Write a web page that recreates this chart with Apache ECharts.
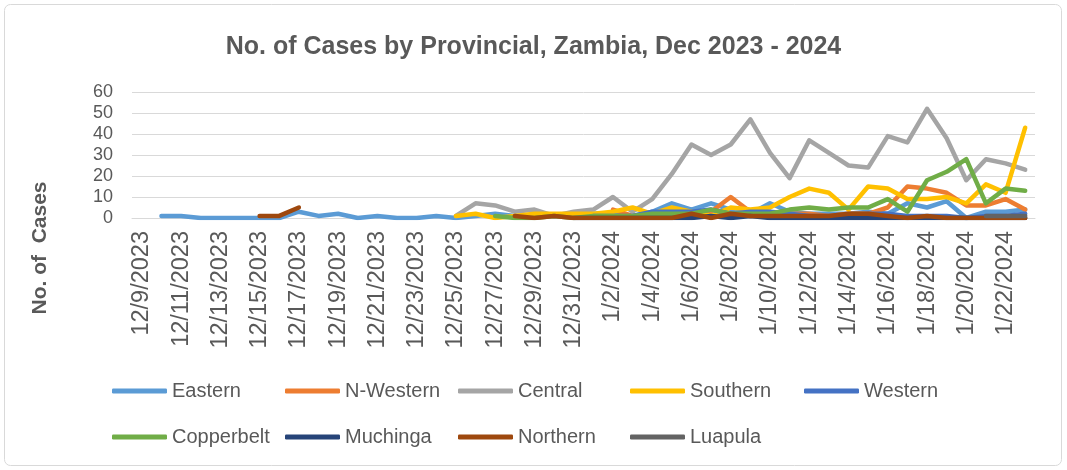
<!DOCTYPE html>
<html lang="en">
<head>
    <meta charset="UTF-8">
    <title>No. of Cases by Provincial</title>
    <script src="https://cdn.jsdelivr.net/npm/echarts@6/dist/echarts.min.js"></script>
    <style>
        html, body { margin: 0; padding: 0; background: #fff; }
    </style>
</head>
<body>
<div id="main" style="width: 1067px;height:470px;"></div>
<script type="text/javascript">
    // dates on the x axis (one per day)
    var dates = [
        '12/9/2023', '12/10/2023', '12/11/2023', '12/12/2023', '12/13/2023', '12/14/2023', '12/15/2023',
        '12/16/2023', '12/17/2023', '12/18/2023', '12/19/2023', '12/20/2023', '12/21/2023', '12/22/2023',
        '12/23/2023', '12/24/2023', '12/25/2023', '12/26/2023', '12/27/2023', '12/28/2023', '12/29/2023',
        '12/30/2023', '12/31/2023', '1/1/2024', '1/2/2024', '1/3/2024', '1/4/2024', '1/5/2024', '1/6/2024',
        '1/7/2024', '1/8/2024', '1/9/2024', '1/10/2024', '1/11/2024', '1/12/2024', '1/13/2024', '1/14/2024',
        '1/15/2024', '1/16/2024', '1/17/2024', '1/18/2024', '1/19/2024', '1/20/2024', '1/21/2024',
        '1/22/2024', '1/23/2024'
    ];

    var n = null;
    var eastern = [n, 1, 1, 0, 0, 0, 0, 0, 3, 1, 2, 0, 1, 0, 0, 1, 0, 1, 2, 1, 1, 1, 1, 2, 2, 1, 3, 7, 4, 7, 4, 2, 7, 3, 2, 2, 2, 3, 2, 7, 5, 8, 0, 3, 3, 4];
    var nWestern = [n, n, n, n, n, n, n, n, n, n, n, n, n, n, n, n, n, n, n, n, n, n, n, n, 4, 1, 1, 1, 1, 3, 10, 3, 2, 2, 2, 1, 2, 2, 5, 15, 14, 12, 6, 6, 9, 4];
    var central = [n, n, n, n, n, n, n, n, n, n, n, n, n, n, n, n, 1, 7, 6, 3, 4, 1, 3, 4, 10, 3, 9, 21, 35, 30, 35, 47, 31, 19, 37, 31, 25, 24, 39, 36, 52, 38, 18, 28, 26, 23];
    var southern = [n, n, n, n, n, n, n, n, n, n, n, n, n, n, n, n, 1, 2, 0, 1, 2, 2, 2, 2, 3, 5, 2, 5, 3, 1, 5, 4, 5, 10, 14, 12, 4, 15, 14, 9, 9, 10, 7, 16, 12, 43];
    var western = [n, n, n, n, n, n, n, n, n, n, n, n, n, n, n, n, n, n, n, n, n, n, n, 1, 1, 1, 3, 3, 3, 4, 2, 3, 3, 2, 1, 1, 1, 2, 2, 1, 1, 1, 0, 1, 1, 2];
    var copperbelt = [n, n, n, n, n, n, n, n, n, n, n, n, n, n, n, n, n, n, 1, 0, 0, 1, 0, 1, 1, 1, 2, 2, 2, 4, 2, 2, 2, 4, 5, 4, 5, 5, 9, 3, 18, 22, 28, 7, 14, 13];
    var muchinga = [n, n, n, n, n, n, n, n, n, n, n, n, n, n, n, n, n, n, n, n, n, n, 0, 0, 0, 0, 0, 0, 0, 1, 0, 1, 0, 0, 0, 0, 0, 0, 0, 0, 0, 0, 0, 0, 0, 0];
    var northern = [n, n, n, n, n, n, 1, 1, 5, n, n, n, n, n, n, n, n, n, n, 1, 0, 1, 0, 0, 0, 0, 0, 0, 2, 0, 2, 1, 1, 1, 1, 1, 2, 2, 1, 0, 1, 0, 0, 0, 0, 0];
    var luapula = [n, n, n, n, n, n, n, n, n, n, n, n, n, n, n, n, n, n, n, n, n, n, n, n, n, n, n, n, n, n, n, n, n, n, n, n, n, n, n, n, n, n, n, 1, 1, 1];

    var names = ['Eastern', 'N-Western', 'Central', 'Southern', 'Western', 'Copperbelt', 'Muchinga', 'Northern', 'Luapula'];
    var colors = ['#5B9BD5', '#ED7D31', '#A5A5A5', '#FFC000', '#4472C4', '#70AD47', '#264478', '#9E480E', '#636363'];
    var values = [eastern, nWestern, central, southern, western, copperbelt, muchinga, northern, luapula];

    var textColor = '#595959';
    var font = 'Liberation Sans';

    // legend laid out in a fixed grid like the original
    var legendLeft = [112, 285, 458, 630, 804];
    var legendTop = [381, 427];
    var legends = names.map(function (name, i) {
        return {
            data: [name],
            left: legendLeft[i % 5],
            top: legendTop[Math.floor(i / 5)],
            icon: 'roundRect',
            itemWidth: 55,
            itemHeight: 5,
            itemGap: 5,
            padding: 0,
            textStyle: { color: textColor, fontSize: 20, fontFamily: font, padding: [0, 0, 0, 0] }
        };
    });

    var myChart = echarts.init(document.getElementById('main'));

    var option = {
        animation: false,
        color: colors,
        title: {
            text: 'No. of Cases by Provincial, Zambia, Dec 2023 - 2024',
            left: 'center',
            top: 30,
            textStyle: { color: textColor, fontSize: 25, fontWeight: 'bold', fontFamily: font }
        },
        graphic: [{
            type: 'rect',
            shape: { x: 4.5, y: 4.5, width: 1057, height: 461, r: 6 },
            style: { fill: 'none', stroke: '#D9D9D9', lineWidth: 1 },
            silent: true
        }, {
            type: 'text',
            x: 40,
            y: 248,
            rotation: Math.PI / 2,
            style: {
                text: 'No. of  Cases',
                fill: textColor,
                font: 'bold 21px "Liberation Sans"',
                align: 'center',
                verticalAlign: 'middle'
            }
        }],
        legend: legends,
        grid: { left: 132, right: 32, top: 92, bottom: 252 },
        xAxis: {
            type: 'category',
            data: dates,
            boundaryGap: true,
            axisLine: { lineStyle: { color: '#D9D9D9', width: 1 } },
            axisTick: { interval: 1, length: 6, lineStyle: { color: '#D9D9D9' } },
            axisLabel: {
                interval: 1,
                rotate: 90,
                margin: 13,
                color: textColor,
                fontSize: 23.5,
                fontFamily: font
            },
            splitLine: { show: false }
        },
        yAxis: {
            type: 'value',
            min: 0,
            max: 60,
            interval: 10,
            axisLine: { show: false },
            axisTick: { show: false },
            axisLabel: { color: textColor, fontSize: 18, fontFamily: font, margin: 19 },
            splitLine: { lineStyle: { color: '#D9D9D9', width: 1 } }
        },
        series: names.map(function (name, i) {
            return {
                name: name,
                type: 'line',
                data: values[i],
                symbol: 'none',
                showSymbol: false,
                connectNulls: false,
                lineStyle: { width: 4.5, color: colors[i], cap: 'round', join: 'round' },
                itemStyle: { color: colors[i] }
            };
        })
    };

    myChart.setOption(option);
</script>
</body>
</html>
